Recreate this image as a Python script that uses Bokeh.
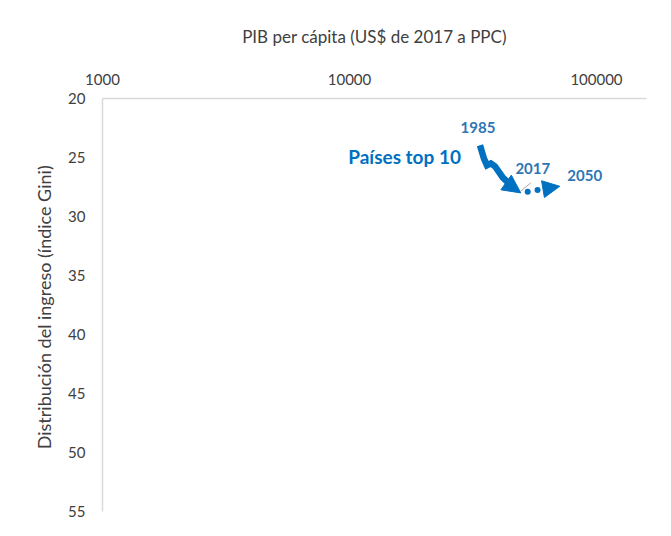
from bokeh.plotting import figure
from bokeh.models import Range1d, FixedTicker, PrintfTickFormatter, Arrow, NormalHead, ColumnDataSource
from bokeh.core.properties import value
from bokeh.embed import file_html
from bokeh.resources import INLINE

# Data
path_gdp = [33750, 35030, 36020, 37370, 38790, 41780, 45840, 49380]
path_gini = [23.96, 25.09, 25.66, 25.50, 25.74, 26.71, 27.52, 28.0]
proj_gdp = [49380, 71000]
proj_gini = [28.0, 27.44]
year_labels = ["1985", "2017", "2050"]
series_label = "Países top 10"
x_ticks = [1000, 10000, 100000]
y_ticks = [20, 25, 30, 35, 40, 45, 50, 55]

BLUE = "#0070C0"
LBLUE = "#2E75B6"
GRAY_TXT = "#404040"
FONT = "Lato"

p = figure(width=655, height=520, x_axis_type="log", x_axis_location="above",
           x_range=Range1d(1000, 159400), y_range=Range1d(55, 20),
           output_backend="svg", toolbar_location=None,
           min_border_left=102, min_border_right=9, min_border_top=98, min_border_bottom=9)
p.outline_line_color = None
p.xgrid.visible = False
p.ygrid.visible = False
p.background_fill_color = "white"
p.border_fill_color = "white"

for ax in (p.xaxis[0], p.yaxis[0]):
    ax.axis_line_color = "#D9D9D9"
    ax.axis_line_width = 1.5
    ax.major_tick_line_color = None
    ax.minor_tick_line_color = None
    ax.major_tick_out = 0
    ax.major_tick_in = 0
    ax.minor_tick_out = 0
    ax.minor_tick_in = 0
    ax.major_label_text_font = FONT
    ax.major_label_text_font_size = "15px"
    ax.major_label_text_color = GRAY_TXT
    ax.axis_label_text_font = FONT
    ax.axis_label_text_font_style = "normal"
    ax.axis_label_text_color = GRAY_TXT

p.xaxis[0].ticker = FixedTicker(ticks=x_ticks, minor_ticks=[])
p.xaxis[0].formatter = PrintfTickFormatter(format="%.0f")
p.xaxis[0].axis_label = "PIB per cápita (US$ de 2017 a PPC)"
p.xaxis[0].axis_label_text_font_size = "17px"
p.xaxis[0].major_label_standoff = 14
p.xaxis[0].axis_label_standoff = 24

p.yaxis[0].ticker = FixedTicker(ticks=y_ticks, minor_ticks=[])
p.yaxis[0].axis_label = "Distribución del ingreso (índice  Gini)"
p.yaxis[0].axis_label_text_font_size = "18px"
p.yaxis[0].major_label_standoff = 17
p.yaxis[0].axis_label_standoff = 10

# Main path (up to second-last point), arrow for last segment
p.line(path_gdp[:-1], path_gini[:-1], line_color=BLUE, line_width=6.5, line_join="miter")
p.add_layout(Arrow(end=NormalHead(size=18, fill_color=BLUE, line_color=BLUE, line_width=1),
                   x_start=path_gdp[-2], y_start=path_gini[-2],
                   x_end=path_gdp[-1], y_end=path_gini[-1],
                   line_color=BLUE, line_width=6.5))

# Projection (dotted) with arrow head
p.add_layout(Arrow(end=NormalHead(size=17, fill_color=BLUE, line_color=BLUE, line_width=1),
                   x_start=proj_gdp[0], y_start=proj_gini[0],
                   x_end=proj_gdp[1], y_end=proj_gini[1],
                   line_color=BLUE, line_width=6, line_dash="0 10", line_cap="round",
                   line_dash_offset=3))

# Thin gray leader line near 2017
p.segment(x0=[proj_gdp[0]], y0=[proj_gini[0] - 0.15],
          x1=[proj_gdp[0] * 10 ** (10 / 248)], y1=[proj_gini[0] - 0.85],
          line_color="#A6A6A6", line_width=1)

# Labels
lbl = ColumnDataSource(dict(
    x=[path_gdp[0], proj_gdp[0], proj_gdp[1]],
    y=[path_gini[0], proj_gini[0], proj_gini[1]],
    t=year_labels,
    xo=[-2, 12, 25],
    yo=[-18, -24, -11],
))
p.text(x="x", y="y", text="t", x_offset="xo", y_offset="yo", source=lbl,
       text_font=value(FONT), text_font_size="15px", text_font_style="bold",
       text_color=LBLUE, text_align="center", text_baseline="middle")

p.text(x=[path_gdp[0]], y=[path_gini[0]], text=[series_label], x_offset=-19, y_offset=11,
       text_font=value(FONT), text_font_size="19px", text_font_style="bold",
       text_color=BLUE, text_align="right", text_baseline="middle")

open("out.html", "w").write(file_html(p, INLINE))
